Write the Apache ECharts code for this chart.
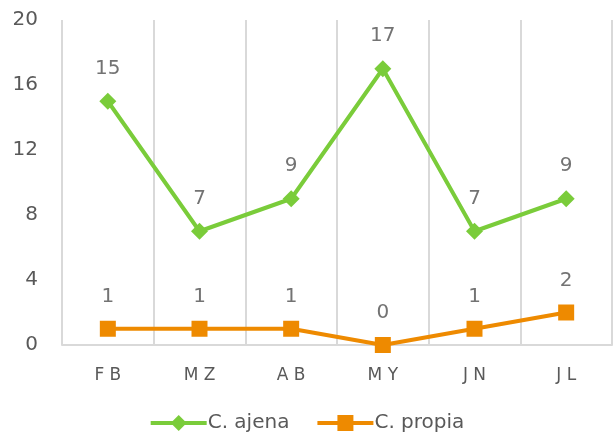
<!DOCTYPE html>
<html style="height: 100%">
<head>
    <meta charset="utf-8">
    <title>ECharts</title>
    <script src="https://cdn.jsdelivr.net/npm/echarts/dist/echarts.min.js"></script>
</head>
<body style="height: 100%; margin: 0; background: #fff">
    <div id="main" style="width: 613px; height: 438px"></div>
    <script type="text/javascript">
        var months = ['FB', 'MZ', 'AB', 'MY', 'JN', 'JL'];
        var ajena = [15, 7, 9, 17, 7, 9];
        var propia = [1, 1, 1, 0, 1, 2];
        var yTicks = { min: 0, max: 20, interval: 4 };

        var myChart = echarts.init(document.getElementById('main'));
        var font = 'DejaVu Sans';

        var option = {
            animation: false,
            textStyle: { fontFamily: font },
            grid: { left: 62, right: 1, top: 20, bottom: 93 },
            legend: {
                bottom: 0,
                itemWidth: 56,
                itemHeight: 20,
                itemGap: 26,
                lineStyle: { width: 4 },
                textStyle: { fontSize: 20, color: '#595959', fontFamily: font, padding: [0, 0, 0, -4] },
                data: ['C. ajena', 'C. propia']
            },
            xAxis: {
                type: 'category',
                data: months,
                axisLine: { lineStyle: { color: '#d9d9d9', width: 2 } },
                axisTick: { show: false },
                splitLine: { show: true, lineStyle: { color: '#d9d9d9', width: 2 } },
                axisLabel: {
                    margin: 22,
                    fontSize: 17,
                    color: '#595959',
                    fontFamily: font,
                    // letter spacing like the original
                    formatter: function (v) { return v.split('').join(' '); }
                }
            },
            yAxis: {
                type: 'value',
                min: yTicks.min,
                max: yTicks.max,
                interval: yTicks.interval,
                axisLine: { show: false },
                axisTick: { show: false },
                splitLine: { show: false },
                axisLabel: { margin: 24, fontSize: 20, color: '#595959', fontFamily: font }
            },
            series: [
                {
                    name: 'C. ajena',
                    type: 'line',
                    data: ajena,
                    symbol: 'diamond',
                    symbolSize: 17,
                    itemStyle: { color: '#7acc3a' },
                    lineStyle: { width: 4, color: '#7acc3a' },
                    label: { show: true, position: 'top', distance: 14, fontSize: 20, color: '#737373', fontFamily: font }
                },
                {
                    name: 'C. propia',
                    type: 'line',
                    data: propia,
                    symbol: 'rect',
                    symbolSize: 16,
                    itemStyle: { color: '#ee8a00' },
                    lineStyle: { width: 4, color: '#ee8a00' },
                    label: { show: true, position: 'top', distance: 14, fontSize: 20, color: '#737373', fontFamily: font }
                }
            ]
        };

        myChart.setOption(option);
    </script>
</body>
</html>
